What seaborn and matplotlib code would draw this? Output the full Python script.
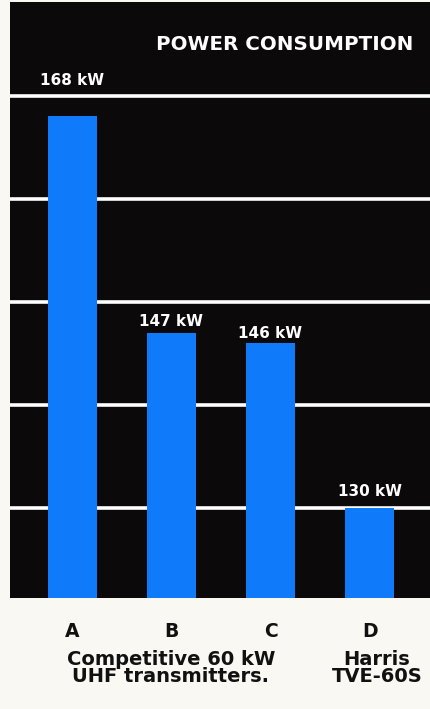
import matplotlib
matplotlib.use("Agg")
import matplotlib.pyplot as plt
import seaborn as sns
import pandas as pd

# Data
categories = ["A", "B", "C", "D"]
power_kw = [168, 147, 146, 130]
value_labels = ["168 kW", "147 kW", "146 kW", "130 kW"]
grid_levels = [130, 140, 150, 160, 170]

sns.set_theme(style="dark")
plt.rcParams["font.family"] = ["DejaVu Sans"]

PANEL = "#0b0909"
BLUE = "#0f7bfa"
PAPER = "#f9f8f3"
INK = "#111111"

df = pd.DataFrame({"unit": categories, "kw": power_kw})

fig = plt.figure(figsize=(4.31, 7.09), dpi=100, facecolor=PAPER)
ax = fig.add_axes([10 / 431, 111 / 709, 421 / 431, 596 / 709])
ax.set_facecolor(PANEL)

sns.barplot(data=df, x="unit", y="kw", color=BLUE, width=0.5,
            saturation=1, linewidth=0, edgecolor="none", ax=ax, zorder=3)

ax.set_ylim(121.3, 179.1)
ax.set_xlim(-0.63, 3.62)

# white rules across the panel, behind the bars
for lvl in grid_levels:
    ax.axhline(lvl, color="white", lw=2.6, zorder=1)

for s in ax.spines.values():
    s.set_visible(False)
ax.set_yticks([])
ax.set_xlabel("")
ax.set_ylabel("")
ax.set_xticks(range(len(categories)))
ax.set_xticklabels(categories, fontsize=13.5, fontweight="bold", color=INK)
ax.tick_params(axis="x", length=0, pad=17)

# value labels above each bar
offsets = [26, 8, 7, 12]
for i, (v, lab) in enumerate(zip(power_kw, value_labels)):
    ax.annotate(lab, (i, v), xytext=(0, offsets[i]), textcoords="offset points",
                ha="center", va="center", color="white", fontsize=11,
                fontweight="bold", zorder=4)

ax.text(0.957, 0.928, "POWER CONSUMPTION", transform=ax.transAxes,
        ha="right", va="center", color="white", fontsize=14.3, fontweight="bold")

fig.text(171 / 431, 1 - 668 / 709, "Competitive 60 kW\nUHF transmitters.",
         ha="center", va="center", fontsize=14, fontweight="bold",
         color=INK, linespacing=0.85)
fig.text(377 / 431, 1 - 668 / 709, "Harris\nTVE-60S",
         ha="center", va="center", fontsize=14, fontweight="bold",
         color=INK, linespacing=0.85)

fig.savefig("out.png", dpi=100, facecolor=PAPER)
